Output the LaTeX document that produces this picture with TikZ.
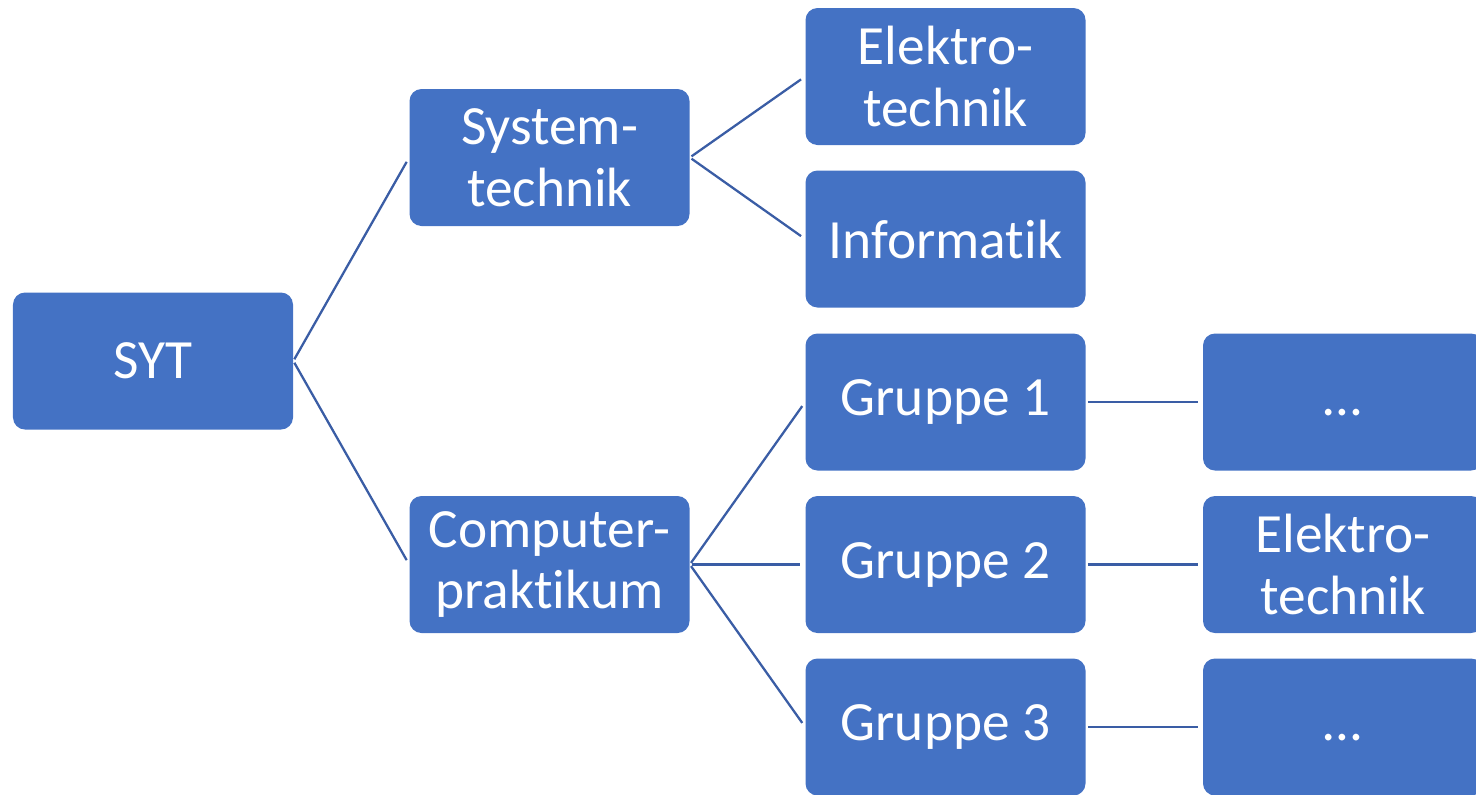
\documentclass[tikz,border=0pt]{standalone}
\usepackage{fontspec}
\setmainfont[Ligatures={NoCommon}]{Carlito}
\usepackage{tikz}
\definecolor{boxblue}{HTML}{4472C4}
\definecolor{lineblue}{HTML}{3A5DA5}

\begin{document}
\begin{tikzpicture}[
  box/.style={fill=boxblue, rounded corners=0.24cm, minimum width=5.6cm, minimum height=2.74cm,
    inner sep=0pt, text=white, align=center, font=\fontsize{31.5}{35}\selectfont},
  link/.style={lineblue, line width=1.3pt, shorten <=0.04cm, shorten >=0.1cm}]
  \useasboundingbox (0,0) rectangle (29.52,-15.9);

  \node[box] (syt) at (3.06,-7.22) {SYT};
  \node[box] (sys) at (10.99,-3.15) {System-\\technik};
  \node[box] (comp) at (10.99,-11.29) {Computer-\\praktikum};

  \node[box] (elek) at (18.91,-1.53) {Elektro-\\technik};
  \node[box] (inf) at (18.91,-4.78) {Informatik};
  \node[box] (g1) at (18.91,-8.04) {Gruppe 1};
  \node[box] (g2) at (18.91,-11.29) {Gruppe 2};
  \node[box] (g3) at (18.91,-14.54) {Gruppe 3};

  \node[box] (r1) at (26.86,-8.04) {\vphantom{Gg}…};
  \node[box] (r2) at (26.86,-11.29) {Elektro-\\technik};
  \node[box] (r3) at (26.86,-14.54) {\vphantom{Gg}…};

  \draw[link] (syt.east) -- (sys.west);
  \draw[link] (syt.east) -- (comp.west);
  \draw[link] (sys.east) -- (elek.west);
  \draw[link] (sys.east) -- (inf.west);
  \draw[link] (comp.east) -- (g1.west);
  \draw[link] (comp.east) -- (g2.west);
  \draw[link] (comp.east) -- (g3.west);
  \draw[link] (g1.east) -- (r1.west);
  \draw[link] (g2.east) -- (r2.west);
  \draw[link] (g3.east) -- (r3.west);

\end{tikzpicture}
\end{document}
